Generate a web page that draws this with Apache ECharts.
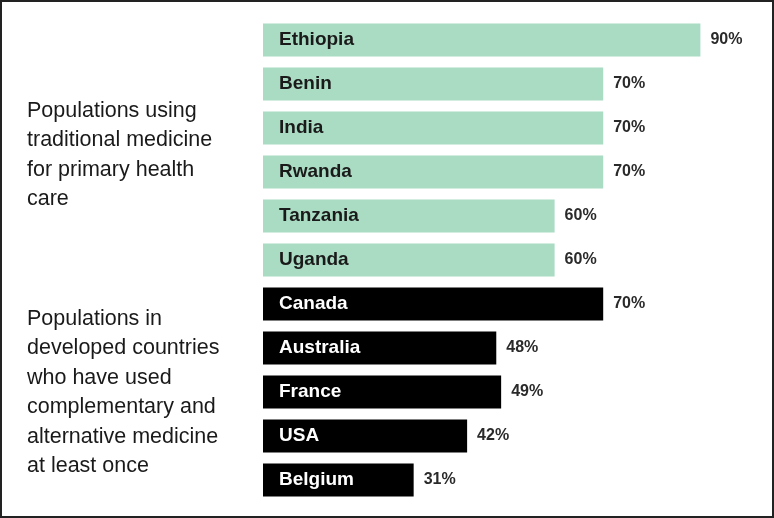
<!DOCTYPE html>
<html>
<head>
<meta charset="utf-8">
<script src="https://cdn.jsdelivr.net/npm/echarts@6/dist/echarts.min.js"></script>
<style>
html,body{margin:0;padding:0;background:#fff;}
#chart{width:774px;height:518px;}
</style>
</head>
<body>
<div id="chart"></div>
<script>
const categories = ['Ethiopia','Benin','India','Rwanda','Tanzania','Uganda','Canada','Australia','France','USA','Belgium'];
const values = [90,70,70,70,60,60,70,48,49,42,31];
const groups = ['traditional','traditional','traditional','traditional','traditional','traditional','developed','developed','developed','developed','developed'];
const groupLabels = {
  traditional: 'Populations using\ntraditional medicine\nfor primary health\ncare',
  developed: 'Populations in\ndeveloped countries\nwho have used\ncomplementary and\nalternative medicine\nat least once'
};
const groupColors = {traditional:'#a9dcc3', developed:'#000000'};
const labelColors = {traditional:'#1a1a1a', developed:'#ffffff'};

const FONT = '"Liberation Sans",Arial,sans-serif';
const chart = echarts.init(document.getElementById('chart'));

const barData = values.map((v,i)=>({
  value: v,
  itemStyle:{color: groupColors[groups[i]]},
  label:{color: labelColors[groups[i]]}
}));

chart.setOption({
  backgroundColor:'#fff',
  animation:false,
  grid:{left:263, right:25, top:18, bottom:16},
  xAxis:{type:'value', min:0, max:100, show:false},
  yAxis:{type:'category', data:categories, inverse:true, show:false},
  series:[
    {
      type:'bar', data:barData, barWidth:33,
      label:{show:true, position:'insideLeft', distance:16,
        formatter:p=>p.name, fontFamily:FONT, fontWeight:'bold', fontSize:19}
    },
    {
      type:'bar', data:values, barWidth:33, barGap:'-100%', silent:true,
      itemStyle:{color:'rgba(0,0,0,0)'},
      label:{show:true, position:'right', distance:10, formatter:p=>p.value+'%',
        fontFamily:FONT, fontWeight:'bold', fontSize:16, color:'#2a2a2a'}
    }
  ],
  graphic:[
    {type:'rect', shape:{x:1,y:1,width:772,height:516}, style:{fill:'none', stroke:'#222', lineWidth:2}},
    {type:'text', left:27, top:96, style:{text:groupLabels.traditional, font:'21.5px '+FONT, fill:'#1a1a1a', lineHeight:29.5}},
    {type:'text', left:27, top:304, style:{text:groupLabels.developed, font:'21.5px '+FONT, fill:'#1a1a1a', lineHeight:29.5}}
  ]
});
</script>
</body>
</html>
